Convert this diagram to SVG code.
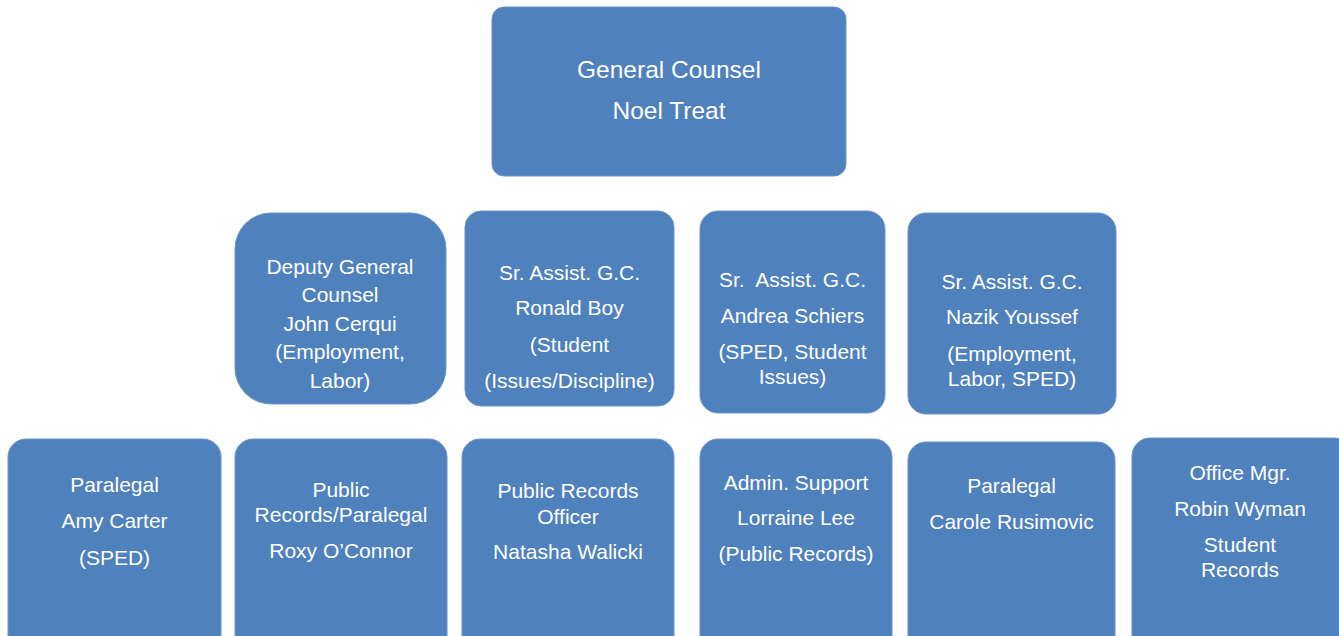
<svg xmlns="http://www.w3.org/2000/svg" width="1339" height="636" viewBox="0 0 1339 636">
  <style>
    .box { fill: #4F81BD; stroke: #6A93C8; stroke-width: 1; }
    text { font-family: "Liberation Sans", Arial, sans-serif; fill: #FFFFFF; text-anchor: middle; font-size: 21px; }
    .big { font-size: 24.5px; }
  </style>
  <rect width="1339" height="636" fill="#FFFFFF"/>

  <!-- no connectors are drawn in this chart -->
  <g id="connectors"/>

  <!-- top level -->
  <g id="general-counsel">
    <rect class="box" x="492" y="7" width="354" height="169" rx="12"/>
    <text class="big" x="669" y="78">General Counsel</text>
    <text class="big" x="669" y="119">Noel Treat</text>
  </g>

  <!-- second level -->
  <g id="deputy-gc">
    <rect class="box" x="235" y="213" width="211" height="191" rx="36"/>
    <text x="340" y="274">Deputy General</text>
    <text x="340" y="302">Counsel</text>
    <text x="340" y="331">John Cerqui</text>
    <text x="340" y="359">(Employment,</text>
    <text x="340" y="388">Labor)</text>
  </g>

  <g id="sagc-boy">
    <rect class="box" x="465" y="211" width="209" height="195" rx="16"/>
    <text x="569.5" y="280">Sr. Assist. G.C.</text>
    <text x="569.5" y="315">Ronald Boy</text>
    <text x="569.5" y="352">(Student</text>
    <text x="569.5" y="388">(Issues/Discipline)</text>
  </g>

  <g id="sagc-schiers">
    <rect class="box" x="700" y="211" width="185" height="202" rx="18"/>
    <text x="792.5" y="287" xml:space="preserve">Sr.  Assist. G.C.</text>
    <text x="792.5" y="323">Andrea Schiers</text>
    <text x="792.5" y="359">(SPED, Student</text>
    <text x="792.5" y="384">Issues)</text>
  </g>

  <g id="sagc-youssef">
    <rect class="box" x="908" y="213" width="208" height="201" rx="18"/>
    <text x="1012" y="289">Sr. Assist. G.C.</text>
    <text x="1012" y="324">Nazik Youssef</text>
    <text x="1012" y="361">(Employment,</text>
    <text x="1012" y="386">Labor, SPED)</text>
  </g>

  <!-- third level -->
  <g id="paralegal-carter">
    <rect class="box" x="8" y="439" width="213" height="215" rx="18"/>
    <text x="114.5" y="492">Paralegal</text>
    <text x="114.5" y="528">Amy Carter</text>
    <text x="114.5" y="565">(SPED)</text>
  </g>

  <g id="records-oconnor">
    <rect class="box" x="235" y="439" width="212" height="215" rx="18"/>
    <text x="341" y="497">Public</text>
    <text x="341" y="522">Records/Paralegal</text>
    <text x="341" y="558">Roxy O’Connor</text>
  </g>

  <g id="records-walicki">
    <rect class="box" x="462" y="439" width="212" height="215" rx="18"/>
    <text x="568" y="498">Public Records</text>
    <text x="568" y="524">Officer</text>
    <text x="568" y="559">Natasha Walicki</text>
  </g>

  <g id="admin-lee">
    <rect class="box" x="700" y="439" width="192" height="215" rx="18"/>
    <text x="796" y="490">Admin. Support</text>
    <text x="796" y="525">Lorraine Lee</text>
    <text x="796" y="561">(Public Records)</text>
  </g>

  <g id="paralegal-rusimovic">
    <rect class="box" x="908" y="442" width="207" height="212" rx="18"/>
    <text x="1011.5" y="493">Paralegal</text>
    <text x="1011.5" y="529">Carole Rusimovic</text>
  </g>

  <g id="office-wyman">
    <rect class="box" x="1132" y="438" width="220" height="216" rx="18"/>
    <text x="1240" y="480">Office Mgr.</text>
    <text x="1240" y="516">Robin Wyman</text>
    <text x="1240" y="552">Student</text>
    <text x="1240" y="577">Records</text>
  </g>
</svg>
